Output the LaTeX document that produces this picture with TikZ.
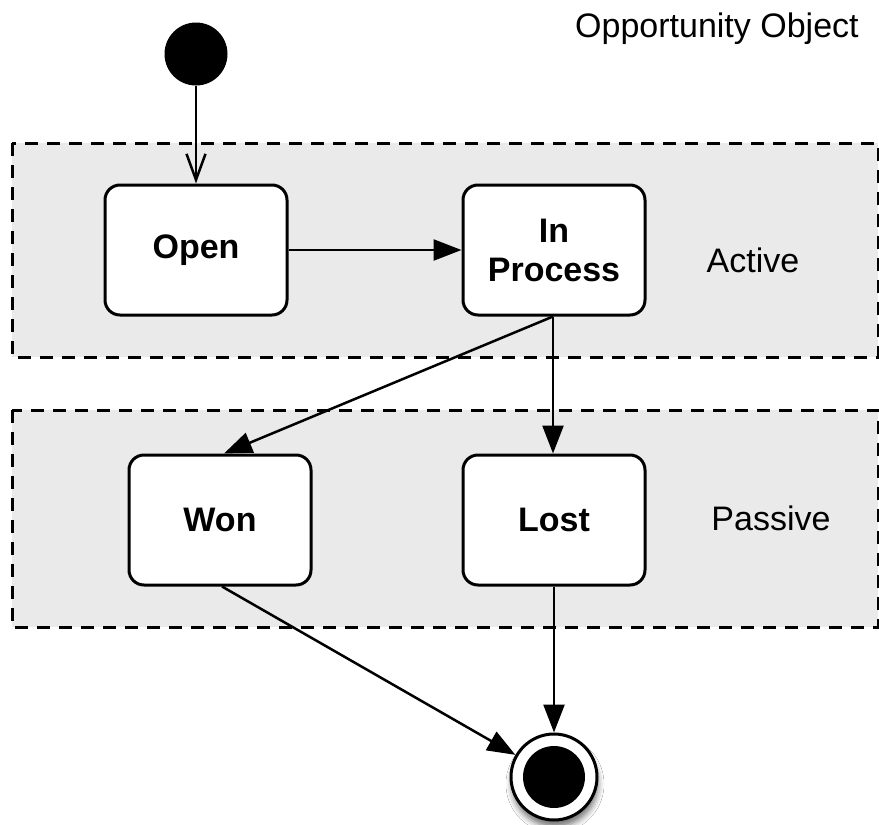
\documentclass[tikz,border=0pt]{standalone}
\usepackage{fontspec}
\setmainfont{Liberation Sans}
\usetikzlibrary{arrows.meta,shadows,shadows.blur}
\definecolor{regionfill}{RGB}{234,234,234}
\tikzset{
  region/.style={draw=black, fill=regionfill, line width=3pt, dash pattern=on 13pt off 9pt},
  statebox/.style={draw=black, fill=white, line width=3pt, rounded corners=15pt,
    minimum width=182pt, minimum height=130pt, align=center,
    font=\fontsize{34}{39}\selectfont\bfseries},
  initstate/.style={circle, fill=black, minimum size=63pt, inner sep=0pt},
  finalstate/.style={circle, draw=black, fill=white, line width=3pt, minimum size=86pt, inner sep=0pt,
    blur shadow={shadow xshift=1pt, shadow yshift=-7pt, shadow blur radius=6pt, shadow opacity=55}},
  finalcore/.style={circle, fill=black, minimum size=62pt, inner sep=0pt},
  lbl/.style={font=\fontsize{34}{39}\selectfont, inner sep=0pt},
  conn/.style={line width=2.5pt, -{Triangle[length=28pt,width=21pt]}},
  openconn/.style={line width=2.5pt, -{Straight Barb[length=26pt,width=19pt,line width=2.5pt]}}
}
\begin{document}
\begin{tikzpicture}[x=1pt,y=-1pt]
\useasboundingbox (0,0) rectangle (879,825);
\fill[white] (0,0) rectangle (879,825);
\draw[region] (12,143) rectangle (878,357);
\draw[region] (12,410) rectangle (878,627);
\node[lbl, anchor=base west] (title) at (575,37) {Opportunity Object};
\node[lbl] (active) at (753,260) {Active};
\node[lbl] (passive) at (771,518) {Passive};
\node[initstate] (init) at (196,54) {};
\node[statebox] (open) at (196,250) {Open};
\node[statebox] (inproc) at (554,250) {In\\Process};
\node[statebox] (won) at (220,520) {Won};
\node[statebox] (lost) at (554,520) {Lost};
\node[finalstate] (final) at (554,777) {};
\node[finalcore] (finalin) at (final.center) {};
\draw[openconn] (init.south) -- (open.north);
\draw[conn] (open.east) -- (inproc.west);
\draw[conn] ([xshift=-1pt]inproc.south) -- ([xshift=-1pt]lost.north);
\draw[conn] ([xshift=-1pt]inproc.south) -- ([xshift=4pt]won.north);
\draw[conn] ([xshift=2pt]won.south) -- (final);
\draw[conn] (lost.south) -- (final.north);
\end{tikzpicture}
\end{document}
